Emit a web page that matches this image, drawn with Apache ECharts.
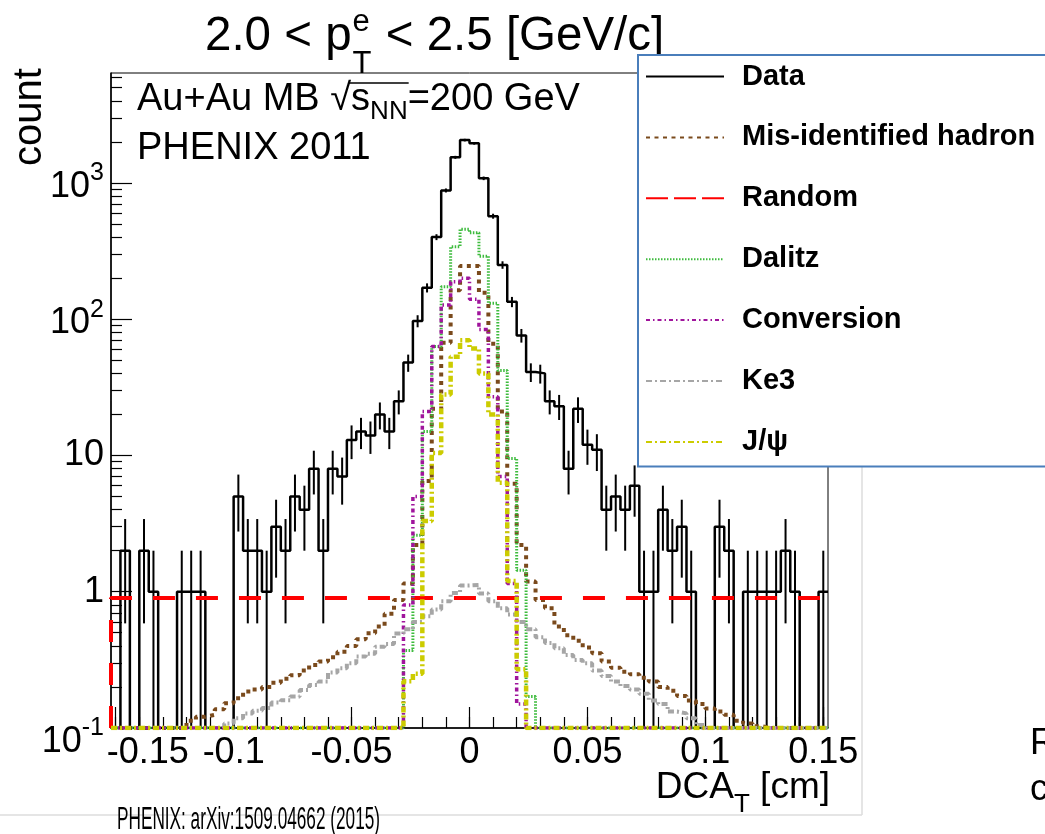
<!DOCTYPE html>
<html>
<head>
<meta charset="utf-8">
<script src="https://cdn.jsdelivr.net/npm/echarts@6.0.0/dist/echarts.min.js"></script>
<style>
html,body{margin:0;padding:0;background:#ffffff;}
#chart{width:1045px;height:834px;}
</style>
</head>
<body>
<div id="chart"></div>
<script>
// ---------------- data ----------------
// histogram binning: 76 bins of 0.004 cm from -0.152 to 0.152
const binLow = -0.152;
const binWidth = 0.004;

const dataCounts = [0,2,0,2,1,0,0,1,1,1, 0,0,0,5,2,2,1,3,2,5, 4,8,2,8,7,13,15,14,20,15,
  25,48,97,170,400,880,1540,2060,1950,1080, 570,250,134,76,41,40,25,23,8,22,
  12,11,4,5,4,6,1,1,4,2, 3,1,0,0,3,2,0,1,1,1, 1,2,1,0,0,1];

const misHadron = [0,0,0,0,0,0,0,0.10,0.113,0.121, 0.125,0.137,0.152,0.165,0.185,0.192,0.20,0.215,0.23,0.244,
  0.264,0.29,0.307,0.33,0.363,0.40,0.447,0.495,0.555,0.69, 0.87,1.15,2.2,6.5,22,67,163,245,245,156,
  66,21,6.2,2.2,1.19,0.87,0.755,0.555,0.48,0.437, 0.39,0.353,0.307,0.277,0.259,0.248,0.234,0.219,0.20,0.188,
  0.172,0.159,0.15,0.139,0.132,0.125,0.113,0.108,0.103,0.1, 0,0,0,0,0,0];

const randomBg = [0.9,0.9,0.9,0.9,0.9,0.9,0.9,0.9,0.9,0.9, 0.9,0.9,0.9,0.9,0.9,0.9,0.9,0.9,0.9,0.9,
  0.9,0.9,0.9,0.9,0.9,0.9,0.9,0.9,0.9,0.9, 0.9,0.9,0.9,0.9,0.9,0.9,0.9,0.9,0.9,0.9,
  0.9,0.9,0.9,0.9,0.9,0.9,0.9,0.9,0.9,0.9, 0.9,0.9,0.9,0.9,0.9,0.9,0.9,0.9,0.9,0.9,
  0.9,0.9,0.9,0.9,0.9,0.9,0.9,0.9,0.9,0.9, 0.9,0.9,0.9,0.9,0.9,0.9];

const dalitz = [0,0,0,0,0,0,0,0,0,0, 0,0,0,0,0,0,0,0,0,0, 0,0,0,0,0,0,0,0,0,0,
  0,0.37,2.6,15,63,173,340,456,430,290, 131,42,9.5,1.44,0.17,0,0,0,0,0,
  0,0,0,0,0,0,0,0,0,0, 0,0,0,0,0,0,0,0,0,0, 0,0,0,0,0,0];

const conversion = [0,0,0,0,0,0,0,0,0,0, 0,0,0,0,0,0,0,0,0,0, 0,0,0,0,0,0,0,0,0,0,
  0,0.8,5.0,21,63,127,188,200,140,84, 27,7,1.15,0.15,0,0,0,0,0,0,
  0,0,0,0,0,0,0,0,0,0, 0,0,0,0,0,0,0,0,0,0, 0,0,0,0,0,0];

const ke3 = [0,0,0,0,0,0,0,0,0,0, 0,0.10,0.108,0.118,0.128,0.134,0.14,0.154,0.16,0.17,
  0.19,0.207,0.219,0.255,0.274,0.298,0.334,0.35,0.395,0.413, 0.494,0.53,0.60,0.66,0.74,0.85,0.98,1.11,1.12,0.97,
  0.85,0.755,0.68,0.60,0.53,0.463,0.42,0.385,0.344,0.316, 0.298,0.264,0.241,0.219,0.203,0.192,0.178,0.159,0.15,0.132,
  0.128,0.118,0.105,0,0,0,0,0,0,0, 0,0,0,0,0,0];

const jpsi = [0,0,0,0,0,0,0,0,0,0, 0,0,0,0,0,0,0,0,0,0, 0,0,0,0,0,0,0,0,0,0,
  0,0.22,0.25,3.3,10.4,28,53,70,61,40, 20,6.3,1.2,0.27,0,0,0,0,0,0,
  0,0,0,0,0,0,0,0,0,0, 0,0,0,0,0,0,0,0,0,0, 0,0,0,0,0,0];

const seriesNames = ['Data','Mis-identified hadron','Random','Dalitz','Conversion','Ke3','J/\u03c8'];

const xTickLabels = [-0.15,-0.1,-0.05,0,0.05,0.1,0.15];
const xMinorTicks = [-0.15,-0.14,-0.13,-0.12,-0.11,-0.1,-0.09,-0.08,-0.07,-0.06,-0.05,-0.04,-0.03,-0.02,-0.01,0,
  0.01,0.02,0.03,0.04,0.05,0.06,0.07,0.08,0.09,0.1,0.11,0.12,0.13,0.14,0.15];
const yTickLabels = [0.1,1,10,100,1000];
const yMinorTicks = [0.2,0.3,0.4,0.5,0.6,0.7,0.8,0.9,2,3,4,5,6,7,8,9,20,30,40,50,60,70,80,90,
  200,300,400,500,600,700,800,900,2000,3000,4000,5000,6000];

const xMin = -0.152, xMax = 0.152, yMin = 0.1, yMax = 6400;

// ---------------- helpers ----------------
const FONT = '"Liberation Sans", Arial, Helvetica, sans-serif';
const mctx = document.createElement('canvas').getContext('2d');
function tw(text, size, weight) {
  mctx.font = (weight || 'normal') + ' ' + size + 'px "Liberation Sans"';
  return mctx.measureText(text).width;
}
function histPoints(vals) {
  const pts = [[xMin, yMin]];
  vals.forEach(function (v, k) {
    const lo = binLow + k * binWidth, hi = lo + binWidth;
    const y = v > 0 ? v : yMin;
    pts.push([lo, y], [hi, y]);
  });
  return pts;
}
function txt(str, x, y, size, extra) {
  const o = { type: 'text', x: x, y: y, z: 20,
    style: { text: str, fontSize: size, fontFamily: FONT, fill: '#000', align: 'left', verticalAlign: 'middle' } };
  if (extra) Object.assign(o, extra);
  return o;
}

// ---------------- free texts ----------------
const graphics = [];
// slide frame lines
graphics.push({ type: 'line', z: 0, shape: { x1: 0, y1: 815, x2: 862, y2: 815 }, style: { stroke: '#dcdcdc', lineWidth: 1.5 } });
graphics.push({ type: 'line', z: 0, shape: { x1: 862, y1: 465, x2: 862, y2: 815 }, style: { stroke: '#dcdcdc', lineWidth: 1.5 } });

// title 2.0 < p_T^e < 2.5 [GeV/c]
(function () {
  const x0 = 205, mid = 37, big = 47.5, small = 31;
  const w1 = tw('2.0 < p', big);
  graphics.push(txt('2.0 < p', x0, mid, big));
  graphics.push(txt('e', x0 + w1 + 1, 22, small));
  graphics.push(txt('T', x0 + w1 + 1, 64, small));
  const ws = Math.max(tw('e', small), tw('T', small));
  graphics.push(txt(' < 2.5 [GeV/c]', x0 + w1 + 2 + ws, mid, big));
})();

// y axis title "count"
graphics.push(txt('count', 30, 117, 40, { rotation: Math.PI / 2, style: { text: 'count', fontSize: 40, fontFamily: FONT, fill: '#000', align: 'center', verticalAlign: 'middle' } }));

// x axis title DCA_T [cm]
(function () {
  const big = 37, small = 26, right = 830, mid = 788;
  const total = tw('DCA', big) + tw('T', small) + tw(' [cm]', big);
  let x = right - total;
  graphics.push(txt('DCA', x, mid, big)); x += tw('DCA', big);
  graphics.push(txt('T', x, mid + 17, small)); x += tw('T', small);
  graphics.push(txt(' [cm]', x, mid, big));
})();

// Au+Au MB sqrt(s_NN)=200 GeV
(function () {
  const x0 = 137, mid = 100, big = 38, small = 26;
  let x = x0;
  graphics.push(txt('Au+Au MB ', x, mid, big)); x += tw('Au+Au MB ', big);
  graphics.push(txt('\u221a', x, mid, big)); x += tw('\u221a', big);
  const ovStart = x - 2;
  graphics.push(txt('s', x, mid, big)); x += tw('s', big);
  graphics.push(txt('NN', x, mid + 12, small)); x += tw('NN', small);
  const ovEnd = x + 1;
  graphics.push({ type: 'line', z: 20, shape: { x1: ovStart, y1: 83, x2: ovEnd, y2: 83 }, style: { stroke: '#000', lineWidth: 1.5 } });
  graphics.push(txt('=200 GeV', x, mid, big));
  graphics.push(txt('PHENIX 2011', x0, 149, big));
})();

// footer & slide fragments
(function () {
  const foot = 'PHENIX: arXiv:1509.04662 (2015)';
  const s = 263 / tw(foot, 32);
  graphics.push(txt(foot, 117, 820, 32, { scaleX: s }));
  graphics.push(txt('R', 1030, 744, 36));
  graphics.push(txt('c', 1030, 790, 36));
})();

// ---------------- chart ----------------
const chart = echarts.init(document.getElementById('chart'), null, { renderer: 'canvas' });

function lineSeries(name, vals, color, width, dash, z) {
  return { type: 'line', name: name, data: histPoints(vals), symbol: 'none', showSymbol: false,
    clip: true, z: z, animation: false, silent: true,
    lineStyle: { color: color, width: width, type: dash, cap: 'butt' },
    itemStyle: { color: color } };
}

const legendData = seriesNames.map(function (n) {
  if (n === 'Random') return { name: n, lineStyle: { type: [22, 6] } };
  return { name: n };
});

const option = {
  animation: false,
  backgroundColor: '#ffffff',
  grid: { left: 111, right: 217, top: 73, bottom: 106, show: true, borderColor: '#000', borderWidth: 1,
    containLabel: false, outerBoundsMode: 'none' },
  legend: {
    orient: 'vertical', left: 638, top: 55, data: legendData,
    itemWidth: 78, itemHeight: 30, itemGap: 31.9,
    padding: [7, 80, 10, 7],
    backgroundColor: '#ffffff', borderColor: '#4a7ebb', borderWidth: 2, borderRadius: 0,
    selectedMode: false, z: 30,
    itemStyle: { opacity: 0 },
    textStyle: { fontFamily: FONT, fontSize: 29, fontWeight: 'bold', color: '#000', padding: [0, 0, 0, 13] }
  },
  xAxis: [
    { type: 'value', min: xMin, max: xMax, position: 'bottom',
      axisLine: { show: true, onZero: false, lineStyle: { color: '#000', width: 1.5 } },
      axisTick: { show: true, inside: true, length: 21, customValues: xTickLabels, lineStyle: { color: '#000', width: 1.2 } },
      axisLabel: { show: true, customValues: xTickLabels, margin: 7, fontFamily: FONT, fontSize: 36, color: '#000',
        formatter: function (v) {
          if (Math.abs(v + 0.15) < 1e-9) return '{sh|-0.15}';
          return String(Math.round(v * 100) / 100);
        },
        rich: { sh: { fontFamily: FONT, fontSize: 36, color: '#000', padding: [0, 0, 0, 64] } } },
      splitLine: { show: false } },
    { type: 'value', min: xMin, max: xMax, position: 'bottom', gridIndex: 0,
      axisLine: { show: false, onZero: false }, axisLabel: { show: false }, splitLine: { show: false },
      axisTick: { show: true, inside: true, length: 11, customValues: xMinorTicks, lineStyle: { color: '#000', width: 1.2 } } }
  ],
  yAxis: [
    { type: 'log', logBase: 10, min: yMin, max: yMax, position: 'left',
      axisLine: { show: true, onZero: false, lineStyle: { color: '#000', width: 1.5 } },
      axisTick: { show: true, inside: true, length: 21, customValues: yTickLabels, lineStyle: { color: '#000', width: 1.2 } },
      axisLabel: { show: true, customValues: yTickLabels, margin: 7, fontFamily: FONT, fontSize: 36, color: '#000',
        formatter: function (v) {
          const p = Math.round(Math.log10(v));
          if (p === 0) return '{b|1}';
          if (p === 1) return '{b|10}';
          if (p < 0) return '{g| }\n{b|10}{s|' + p + '}';
          return '{b|10}{s|' + p + '}';
        },
        rich: {
          b: { fontFamily: FONT, fontSize: 36, color: '#000', lineHeight: 36, verticalAlign: 'bottom' },
          s: { fontFamily: FONT, fontSize: 25, color: '#000', lineHeight: 44, padding: [0, 0, 8, 0], verticalAlign: 'top' },
          g: { fontSize: 10, lineHeight: 20 }
        } },
      splitLine: { show: false } },
    { type: 'log', logBase: 10, min: yMin, max: yMax, position: 'left', gridIndex: 0,
      axisLine: { show: false, onZero: false }, axisLabel: { show: false }, splitLine: { show: false },
      axisTick: { show: true, inside: true, length: 11, customValues: yMinorTicks, lineStyle: { color: '#000', width: 1.2 } } }
  ],
  series: [
    lineSeries(seriesNames[0], dataCounts, '#000000', 2.5, 'solid', 3),
    { type: 'custom', name: 'Data error', z: 3, clip: true, silent: true, animation: false,
      data: dataCounts.map(function (v, k) { return [binLow + (k + 0.5) * binWidth, v]; }).filter(function (d) { return d[1] > 0; }),
      renderItem: function (params, api) {
        const x = api.value(0), v = api.value(1), e = Math.sqrt(v);
        const lo = Math.max(v - e, yMin), hi = v + e;
        const p1 = api.coord([x, lo]), p2 = api.coord([x, hi]);
        return { type: 'line', shape: { x1: p1[0], y1: p1[1], x2: p2[0], y2: p2[1] }, style: { stroke: '#000', lineWidth: 2 } };
      } },
    lineSeries(seriesNames[1], misHadron, '#7a4a1c', 4, [4, 4.5], 4),
    lineSeries(seriesNames[2], randomBg, '#ff0000', 4, [22, 21], 5),
    lineSeries(seriesNames[3], dalitz, '#3dbb3d', 3, [1.5, 1.5], 6),
    lineSeries(seriesNames[4], conversion, '#a0149c', 3.5, [4, 3, 1.5, 3], 7),
    lineSeries(seriesNames[5], ke3, '#a6a6a6', 4, [6, 3, 2, 3], 8),
    lineSeries(seriesNames[6], jpsi, '#cccc00', 4.5, [6, 3, 2, 3], 9)
  ],
  graphic: graphics
};
chart.setOption(option);
</script>
</body>
</html>
